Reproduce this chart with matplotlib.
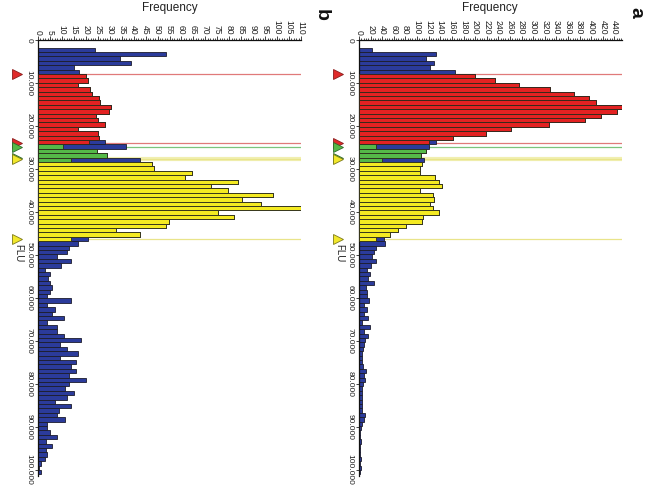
"""Two gated histograms (rotated 90 degrees), panels a and b."""

import matplotlib

matplotlib.use("Agg")
import matplotlib.pyplot as plt
import numpy as np
from matplotlib.ticker import FuncFormatter, MultipleLocator
from matplotlib.transforms import blended_transform_factory

plt.rcParams["font.family"] = ["Liberation Sans", "DejaVu Sans"]

# bins: width 1024, the first drawn bin starts at 1792
BIN_WIDTH = 1024
FIRST_EDGE = 1792

# panel a, bins 1..97
counts_a = [
    23, 133, 115, 129, 123, 165,
    200, 235, 275, 329, 371, 396, 409, 453, 445, 417, 389, 328, 262, 219, 162,
    133, 121, 115, 106, 112,
    109, 105, 105, 131, 137, 143, 105, 128, 129, 123, 128, 138, 110, 109, 81, 67, 53,
    43,
    45, 29, 26, 22, 30, 20, 13, 19, 16, 25, 12, 13, 14, 17, 8, 13, 8, 16, 6, 19,
    8, 15, 10, 9, 7, 6, 5, 6, 7, 12, 8, 10, 7, 5, 6, 6, 6, 6, 6, 10, 8, 6, 3, 1,
    1, 3, 2, 1, 1, 3, 1, 4, 2,
]

# panel b, bins 1..97
counts_b = [
    24.0, 53.7, 34.5, 38.7, 15.0, 17.0,
    19.9, 21.0, 16.8, 21.7, 22.4, 25.7, 25.9, 30.6, 29.6, 24.1, 25.0, 28.0, 16.8,
    25.2, 25.7,
    28.0, 36.8, 24.8, 28.9, 42.6,
    47.7, 48.4, 64.4, 61.6, 83.5, 72.5, 79.3, 98.1, 85.3, 93.2, 110.0, 75.2, 82.1,
    54.7, 53.7, 32.8, 42.6,
    21.0,
    16.8, 12.9, 12.0, 8.1, 13.9, 9.7, 2.9, 4.9, 4.2, 4.9, 5.7, 4.9, 3.9, 13.6, 3.9,
    7.1, 5.7, 10.8, 3.9, 8.1, 8.1, 10.8, 17.8, 9.0, 12.2, 16.8, 9.0, 15.7, 13.6,
    15.7, 12.9, 19.9, 12.9, 11.3, 15.0, 12.0, 7.1, 13.9, 8.8, 8.1, 11.1, 3.9, 3.9,
    4.9, 8.1, 3.2, 5.7, 3.2, 3.9, 2.8, 1.4, 0.4, 1.4,
]

# gated bins (first, last), numbered from 1
gate_bins = {"red": (7, 22), "green": (23, 26), "yellow": (27, 44)}
# bins only partly inside a gate: gated part of the bar
partial_a = {22: 121, 23: 29, 26: 39, 44: 29}
partial_b = {22: 21.5, 23: 10.6, 26: 13.6, 44: 13.6}

# gate boundaries on the FLU axis
gate_lines = [
    ("red", 7980), ("red", 24040),
    ("green", 24900), ("green", 27530),
    ("yellow", 27800), ("yellow", 46240),
]

y_ticks = list(range(0, 100001, 10000))

BAR_COLORS = {"blue": "#2b3b9b", "red": "#e32222", "green": "#55b948", "yellow": "#f4ea22"}
LINE_COLORS = {"red": "#e07a7a", "green": "#7cc47c", "yellow": "#e9e48a"}
MARKER_COLORS = {
    "red": ("#e02a2a", "#8a1c1c"),
    "green": ("#55b948", "#2e6a2a"),
    "yellow": ("#f2e82c", "#7d7a1c"),
}

W, H = 650, 491


def draw_panel(ax, counts, partial, xmax, major, minor):
    counts = np.asarray(counts, dtype=float)
    edges = FIRST_EDGE + BIN_WIDTH * np.arange(len(counts))

    for i, (name, y) in enumerate(gate_lines):
        # the yellow start sits next to the green end and looks like a wide band
        if name == "yellow" and i == 4:
            ax.axhline(y, color="#f1efb0", lw=3.0, zorder=1)
        ax.axhline(y, color=LINE_COLORS[name], lw=0.9, zorder=1)

    ax.barh(edges, counts, height=BIN_WIDTH, align="edge", color=BAR_COLORS["blue"],
            edgecolor="#1c1c2c", linewidth=0.6, zorder=2)
    for name, (lo, hi) in gate_bins.items():
        idx = np.arange(lo - 1, hi)
        vals = [partial.get(i + 1, counts[i]) for i in idx]
        ax.barh(edges[idx], vals, height=BIN_WIDTH, align="edge", color=BAR_COLORS[name],
                edgecolor="#2a2a1a", linewidth=0.6, zorder=3)

    ax.set_xlim(0, xmax)
    ax.set_ylim(101470, 0)
    ax.xaxis.tick_top()
    ax.xaxis.set_major_locator(MultipleLocator(major))
    ax.xaxis.set_minor_locator(MultipleLocator(minor))
    ax.set_yticks(y_ticks)
    ax.set_yticklabels([f"{v:,}".replace(",", ".") for v in y_ticks], va="center")
    ax.tick_params(axis="x", which="major", length=3, width=0.6, labelsize=6.2, pad=1,
                   labelrotation=-90, colors="#222222")
    ax.tick_params(axis="x", which="minor", length=1.5, width=0.5)
    ax.tick_params(axis="y", length=2.5, width=0.6, labelsize=6.0, pad=1.5,
                   labelrotation=-90, colors="#222222")
    for side in ("right", "bottom"):
        ax.spines[side].set_visible(False)
    for side in ("left", "top"):
        ax.spines[side].set_linewidth(0.9)
        ax.spines[side].set_color("#111111")

    trans = blended_transform_factory(ax.transAxes, ax.transData)
    for name, y in gate_lines:
        face, edge = MARKER_COLORS[name]
        ax.plot(-0.078, y, marker=">", ms=7.5, mfc=face, mec=edge, mew=0.6,
                transform=trans, clip_on=False, zorder=5)
    ax.text(-0.076, 49600, "FLU", transform=trans, rotation=-90, ha="center",
            va="center", fontsize=7, color="#222222")


fig = plt.figure(figsize=(W / 100, H / 100), dpi=100)
ax_b = fig.add_axes([38 / W, 1 - 476 / H, 263 / W, 436 / H])
ax_a = fig.add_axes([359 / W, 1 - 476 / H, 263 / W, 436 / H])

draw_panel(ax_b, counts_b, partial_b, 110, 5, 1)
draw_panel(ax_a, counts_a, partial_a, max(counts_a), 20, 4)

fig.text(170 / W, 1 - 7.5 / H, "Frequency", ha="center", va="center", fontsize=8.5,
         color="#222222")
fig.text(490 / W, 1 - 7.5 / H, "Frequency", ha="center", va="center", fontsize=8.5,
         color="#222222")
fig.text(321 / W, 1 - 15 / H, "b", rotation=-90, ha="center", va="center", fontsize=14,
         fontweight="bold", color="#111111")
fig.text(636 / W, 1 - 12 / H, "a", rotation=-90, ha="center", va="center", fontsize=14,
         fontweight="bold", color="#111111")

fig.savefig("out.png", dpi=100)
